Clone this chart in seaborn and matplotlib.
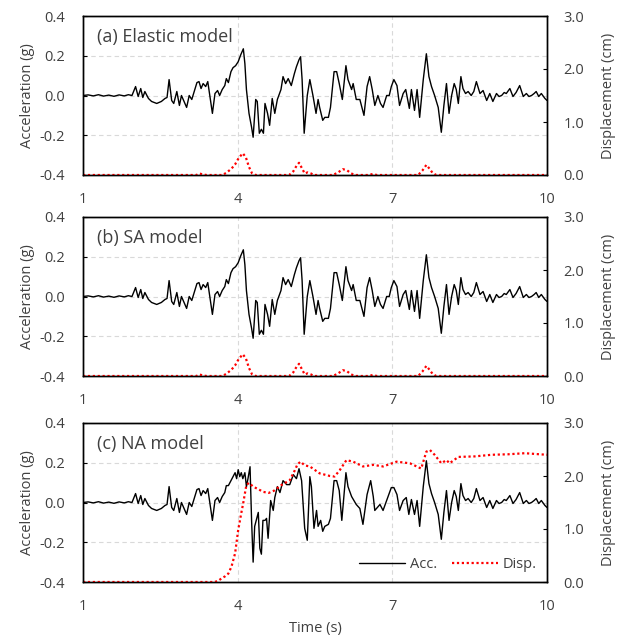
import numpy as np
import pandas as pd
import matplotlib
matplotlib.use("Agg")
import matplotlib.pyplot as plt
import seaborn as sns

# ---- acceleration (g), shared start of the record ----
t_early = [1.00, 1.10, 1.20, 1.30, 1.40, 1.50, 1.60, 1.70, 1.80, 1.88,
           1.95, 2.02, 2.07, 2.12, 2.16, 2.20, 2.27, 2.33, 2.43, 2.52,
           2.59, 2.63, 2.67, 2.72, 2.76, 2.82, 2.87, 2.91, 2.96, 3.01,
           3.06, 3.11, 3.17, 3.21, 3.25, 3.29, 3.33, 3.38, 3.42, 3.46,
           3.51, 3.56, 3.61, 3.65, 3.70, 3.75, 3.78]
acc_early = [0.000, 0.003, -0.002, 0.004, -0.003, 0.002, -0.004, 0.003, -0.002, 0.004,
             0.000, 0.045, -0.005, 0.035, -0.010, 0.020, -0.015, -0.030, -0.040, -0.030,
             -0.015, -0.010, 0.080, -0.025, -0.040, 0.020, -0.050, 0.000, -0.030, -0.060,
             0.000, -0.020, 0.030, 0.065, 0.070, 0.035, 0.060, 0.045, 0.070, 0.000,
             -0.090, 0.010, 0.025, 0.000, 0.030, 0.050, 0.085]

# ---- elastic / SA models, middle part ----
t_mid_a = [3.82, 3.87, 3.91, 3.96, 4.01, 4.06, 4.11, 4.14, 4.17, 4.22,
           4.27, 4.30, 4.35, 4.38, 4.42, 4.46, 4.50, 4.53, 4.58, 4.62,
           4.67, 4.72, 4.77, 4.84, 4.88, 4.93, 4.98, 5.04, 5.10, 5.14,
           5.19, 5.22, 5.25, 5.29, 5.35, 5.40, 5.46, 5.52, 5.56, 5.59,
           5.65, 5.69, 5.76, 5.80, 5.87, 5.92, 5.97, 6.03, 6.10, 6.14,
           6.21, 6.24, 6.30, 6.37, 6.45, 6.51, 6.56, 6.61, 6.66, 6.72,
           6.77, 6.82, 6.89, 6.94, 6.98, 7.03, 7.09, 7.14, 7.21, 7.26,
           7.33, 7.37, 7.43, 7.48, 7.53, 7.60]
acc_mid_a = [0.065, 0.120, 0.140, 0.150, 0.170, 0.205, 0.235, 0.160, 0.030, -0.090,
             -0.160, -0.210, -0.020, -0.030, -0.190, -0.170, -0.190, -0.040, -0.090, -0.150,
             -0.015, -0.090, -0.020, 0.030, 0.095, 0.060, 0.085, 0.050, 0.110, 0.145,
             0.180, 0.195, 0.080, -0.190, 0.000, 0.080, 0.000, -0.090, -0.020, -0.060,
             -0.125, -0.110, -0.110, -0.060, 0.120, 0.120, 0.060, -0.020, 0.150, 0.080,
             0.030, 0.060, -0.020, -0.020, -0.100, 0.045, 0.095, 0.030, -0.050, 0.000,
             -0.040, -0.060, 0.000, 0.000, 0.045, 0.080, 0.050, -0.050, 0.010, 0.030,
             -0.065, 0.030, -0.075, 0.030, -0.110, 0.080]

# ---- NA model, middle part ----
t_mid_c = [3.82, 3.87, 3.91, 3.95, 3.98, 4.01, 4.04, 4.07, 4.10, 4.14,
           4.17, 4.20, 4.24, 4.27, 4.30, 4.33, 4.37, 4.40, 4.43, 4.46,
           4.49, 4.53, 4.56, 4.59, 4.64, 4.69, 4.72, 4.77, 4.82, 4.88,
           4.95, 5.01, 5.08, 5.14, 5.19, 5.24, 5.30, 5.35, 5.40, 5.43,
           5.48, 5.53, 5.56, 5.61, 5.65, 5.69, 5.76, 5.80, 5.87, 5.92,
           5.97, 6.02, 6.10, 6.14, 6.21, 6.30, 6.37, 6.43, 6.51, 6.58,
           6.63, 6.66, 6.76, 6.82, 6.89, 6.98, 7.03, 7.09, 7.14, 7.21,
           7.27, 7.32, 7.37, 7.43, 7.48, 7.53, 7.60]
acc_mid_c = [0.085, 0.110, 0.130, 0.150, 0.120, 0.165, 0.130, 0.150, 0.120, 0.150,
             0.080, 0.120, 0.180, -0.090, -0.300, -0.120, -0.080, -0.050, -0.230, -0.260,
             -0.090, -0.090, -0.080, -0.180, 0.010, -0.040, 0.025, 0.080, 0.050, 0.110,
             0.090, 0.090, 0.140, 0.120, 0.170, 0.110, -0.130, -0.190, 0.130, 0.080,
             -0.130, -0.040, -0.120, -0.090, -0.145, -0.120, -0.110, -0.080, 0.110, 0.110,
             0.060, -0.090, 0.150, 0.080, 0.030, -0.010, -0.030, -0.110, 0.040, 0.110,
             0.030, -0.040, -0.010, -0.040, 0.010, 0.075, 0.075, 0.040, -0.040, 0.010,
             0.025, -0.060, 0.015, -0.060, 0.010, -0.120, 0.080]

# ---- shared end of the record ----
t_late = [7.66, 7.71, 7.76, 7.82, 7.89, 7.95, 8.00, 8.05, 8.10, 8.15,
          8.20, 8.24, 8.28, 8.33, 8.37, 8.42, 8.47, 8.53, 8.58, 8.63,
          8.70, 8.76, 8.83, 8.89, 8.95, 9.02, 9.07, 9.12, 9.17, 9.21,
          9.28, 9.34, 9.40, 9.47, 9.54, 9.60, 9.65, 9.70, 9.75, 9.79,
          9.84, 9.89, 9.96, 10.00]
acc_late = [0.210, 0.095, 0.045, 0.000, -0.060, -0.185, -0.050, 0.060, -0.090, 0.000,
            0.060, 0.030, -0.040, 0.095, 0.035, 0.010, 0.020, 0.000, 0.020, 0.070,
            0.010, 0.025, -0.025, 0.010, -0.030, 0.010, -0.005, 0.000, 0.015, 0.010,
            0.035, -0.005, 0.015, 0.050, -0.005, 0.010, -0.005, 0.000, 0.010, 0.020,
            -0.005, 0.010, -0.015, -0.025]

# ---- displacement (cm) ----
t_disp_a = [1.0, 3.20, 3.26, 3.32, 3.40, 3.70, 3.78, 3.88, 3.95, 4.02,
            4.10, 4.16, 4.22, 4.28, 4.35, 5.00, 5.08, 5.14, 5.19, 5.24,
            5.30, 5.36, 5.42, 5.48, 5.85, 5.95, 6.04, 6.12, 6.20, 6.28,
            6.55, 6.62, 6.70, 7.50, 7.58, 7.66, 7.72, 7.78, 7.85, 10.0]
disp_a = [0, 0, 0.03, 0.01, 0, 0, 0.04, 0.12, 0.20, 0.32,
          0.41, 0.33, 0.15, 0.03, 0, 0, 0.07, 0.17, 0.23, 0.14,
          0.03, 0.05, 0.03, 0, 0, 0.05, 0.11, 0.09, 0.03, 0,
          0, 0.02, 0, 0, 0.08, 0.19, 0.12, 0.04, 0, 0]

t_disp_c = [1.0, 3.55, 3.62, 3.69, 3.76, 3.82, 3.88, 3.95, 4.01, 4.07,
            4.11, 4.14, 4.17, 4.22, 4.30, 4.40, 4.50, 4.60, 4.70, 4.85,
            5.01, 5.11, 5.16, 5.22, 5.30, 5.40, 5.59, 5.79, 5.88, 5.98,
            6.11, 6.24, 6.43, 6.63, 6.82, 7.08, 7.34, 7.56, 7.66, 7.73,
            7.82, 7.95, 8.05, 8.11, 8.28, 8.60, 8.92, 9.25, 9.57, 10.0]
disp_c = [0, 0, 0.02, 0.07, 0.11, 0.16, 0.29, 0.54, 0.98, 1.30,
          1.50, 1.67, 1.83, 1.87, 1.80, 1.75, 1.70, 1.68, 1.72, 1.83,
          1.92, 2.11, 2.22, 2.27, 2.20, 2.18, 2.05, 2.00, 1.99, 2.11,
          2.30, 2.27, 2.18, 2.21, 2.18, 2.27, 2.24, 2.14, 2.46, 2.49,
          2.40, 2.24, 2.30, 2.24, 2.36, 2.37, 2.40, 2.41, 2.43, 2.40]

titles = ["(a) Elastic model", "(b) SA model", "(c) NA model"]

sns.set_style("white")
plt.rcParams["font.family"] = ["Open Sans", "DejaVu Sans"]
TXT = "#404040"

panels = [
    (t_early + t_mid_a + t_late, acc_early + acc_mid_a + acc_late, t_disp_a, disp_a),
    (t_early + t_mid_a + t_late, acc_early + acc_mid_a + acc_late, t_disp_a, disp_a),
    (t_early + t_mid_c + t_late, acc_early + acc_mid_c + acc_late, t_disp_c, disp_c),
]

fig = plt.figure(figsize=(6.25, 6.37), dpi=100)
W, H = 625, 637
tops = [16, 217, 423]
ph = 159

for i, (t, acc, td, dd) in enumerate(panels):
    assert len(t) == len(acc) and len(td) == len(dd)
    ax = fig.add_axes([83 / W, 1 - (tops[i] + ph) / H, 464 / W, ph / H])
    df = pd.DataFrame({"t": t, "acc": acc})
    sns.lineplot(data=df, x="t", y="acc", ax=ax, color="black", lw=1.0,
                 estimator=None, sort=False, label="Acc.", legend=False)
    ax.set_xlim(1, 10)
    ax.set_ylim(-0.4, 0.4)
    ax.set_xticks([1, 4, 7, 10])
    ax.set_yticks([-0.4, -0.2, 0.0, 0.2, 0.4])
    ax.set_yticklabels([f"{v:.1f}" for v in [-0.4, -0.2, 0.0, 0.2, 0.4]])
    ax.grid(True, color="#D9D9D9", ls=(0, (4, 3)), lw=0.8)
    ax.tick_params(direction="in", length=3, color="black", labelcolor=TXT, labelsize=10.5)
    ax.tick_params(axis="y", pad=13)
    ax.tick_params(axis="x", pad=12)
    ax.set_ylabel("Acceleration (g)", color=TXT, fontsize=10.5, labelpad=3)
    ax.set_xlabel("Time (s)" if i == 2 else "", color=TXT, fontsize=10.5, labelpad=5)
    for s in ax.spines.values():
        s.set_color("black")
        s.set_linewidth(1.0)
    ax.text(0.03, 0.87, titles[i], transform=ax.transAxes, fontsize=13,
            color=TXT, va="center", ha="left")

    ax2 = ax.twinx()
    dfd = pd.DataFrame({"t": td, "disp": dd})
    sns.lineplot(data=dfd, x="t", y="disp", ax=ax2, color="#FF0000", lw=1.6,
                 ls=(0, (1, 1.2)), estimator=None, sort=False, label="Disp.",
                 legend=False)
    ax2.set_ylim(0, 3)
    ax2.set_yticks([0, 1, 2, 3])
    ax2.set_yticklabels(["0.0", "1.0", "2.0", "3.0"])
    ax2.tick_params(direction="in", length=3, color="black", labelcolor=TXT,
                    labelsize=10.5, pad=12)
    ax2.set_ylabel("Displacement (cm)", color=TXT, fontsize=10.5, labelpad=12)
    ax2.set_xlim(1, 10)
    for s in ax2.spines.values():
        s.set_color("black")
        s.set_linewidth(1.0)

    if i == 2:
        h1, l1 = ax.get_legend_handles_labels()
        h2, l2 = ax2.get_legend_handles_labels()
        ax2.legend(h1 + h2, l1 + l2, loc="lower right", ncol=2, frameon=False,
                   fontsize=10.5, handlelength=3.2, columnspacing=1.0,
                   handletextpad=0.3, borderaxespad=0.3, labelcolor=TXT)

fig.savefig("out.png", dpi=100)
